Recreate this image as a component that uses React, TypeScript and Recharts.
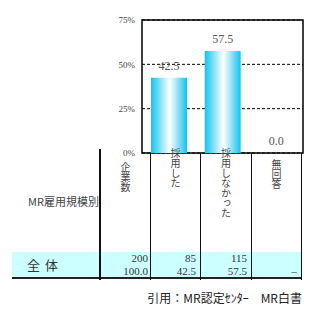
import React from 'react';
import { BarChart, Bar, XAxis, YAxis, CartesianGrid, ReferenceArea, LabelList } from 'recharts';

const categories = ['採用した', '採用しなかった', '無回答'];
const percents = [42.5, 57.5, 0.0];
const counts = ['85', '115', ''];
const pctLabels = ['42.5', '57.5', '–'];
const totalCount = '200';
const totalPct = '100.0';
const yTicks = [0, 25, 50, 75];

const data = categories.map((name, i) => ({ name, value: percents[i] }));

const JP = '"Noto Sans CJK JP", "Noto Sans", sans-serif';
const SERIF = '"Liberation Serif", "DejaVu Serif", serif';

const colLines = [150, 200, 251, 301];
const headerCols = [
  { text: '企業数', x: 100, w: 50, top: 162 },
  { text: categories[0], x: 150, w: 50, top: 148 },
  { text: categories[1], x: 200, w: 51, top: 148 },
  { text: categories[2], x: 251, w: 50, top: 159 },
];

const vText = (t: string, x: number, w: number, top: number) => (
  <div
    key={t}
    style={{
      position: 'absolute',
      left: x,
      width: w,
      top,
      display: 'flex',
      justifyContent: 'center',
    }}
  >
    <div
      style={{
        writingMode: 'vertical-rl',
        textOrientation: 'upright',
        fontFamily: JP,
        fontSize: 10,
        lineHeight: '10px',
        color: '#444',
      }}
    >
      {t}
    </div>
  </div>
);

const App = () => {
  return (
    <div style={{ position: 'absolute', left: 0, top: 0, width: 313, height: 311, background: '#fff', overflow: 'hidden' }}>
      <style>{`.mrchart text { font-family: "Liberation Serif", serif !important; }`}</style>
      <BarChart
        className="mrchart"
        width={313}
        height={160}
        data={data}
        margin={{ top: 20, right: 10, bottom: 7, left: 0 }}
        barSize={36}
      >
        <defs>
          <linearGradient id="barGrad" x1="0" y1="0" x2="1" y2="0">
            <stop offset="0%" stopColor="#12c3f0" />
            <stop offset="52%" stopColor="#ffffff" />
            <stop offset="100%" stopColor="#12c3f0" />
          </linearGradient>
        </defs>
        <CartesianGrid vertical={false} strokeDasharray="3 2" stroke="#000" />
        <XAxis dataKey="name" hide />
        <YAxis
          width={142}
          domain={[0, 75]}
          ticks={yTicks}
          axisLine={false}
          tickLine={false}
          tickSize={0}
          tickMargin={7}
          tickFormatter={(v) => `${v}%`}
          tick={{ fontSize: 9, fill: '#444' }}
        />
        <ReferenceArea y1={0} y2={75} fill="none" stroke="#000" strokeWidth={1.5} />
        <Bar dataKey="value" isAnimationActive={false} fill="url(#barGrad)" minPointSize={0.1}>
          <LabelList
            dataKey="value"
            position="top"
            offset={8}
            formatter={(v: any) => Number(v).toFixed(1)}
            fontSize={12}
            fill="#555"
          />
        </Bar>
      </BarChart>

      {/* table */}
      <div style={{ position: 'absolute', left: 12, top: 252, width: 289, height: 25, background: '#ccffff' }} />
      <div style={{ position: 'absolute', left: 12, top: 277, width: 290, height: 2, background: '#222' }} />
      <div style={{ position: 'absolute', left: 99, top: 149, width: 1.5, height: 131, background: '#111' }} />
      {colLines.map((x) => (
        <div key={x} style={{ position: 'absolute', left: x - 0.5, top: 153, width: 1.5, height: 127, background: '#111' }} />
      ))}
      {headerCols.map((h) => vText(h.text, h.x, h.w, h.top))}

      <div style={{ position: 'absolute', left: 28, top: 194, fontFamily: JP, fontSize: 11, lineHeight: '14px', color: '#444', whiteSpace: 'nowrap' }}>
        MR雇用規模別
      </div>
      <div style={{ position: 'absolute', left: 27, top: 257, fontFamily: JP, fontSize: 13, lineHeight: '16px', color: '#333', letterSpacing: 5, whiteSpace: 'nowrap' }}>
        全体
      </div>

      {[
        { right: 313 - 148, top: totalCount, bottom: totalPct },
        ...counts.map((c, i) => ({ right: 313 - (colLines[i + 1] - 4), top: c, bottom: pctLabels[i] })),
      ].map((r, i) => (
        <div key={i} style={{ position: 'absolute', right: r.right, top: 252, textAlign: 'right', fontFamily: SERIF, fontSize: 11, lineHeight: '13px', color: '#333', whiteSpace: 'nowrap' }}>
          <div>{r.top || '\u00a0'}</div>
          <div>{r.bottom}</div>
        </div>
      ))}

      <div style={{ position: 'absolute', right: 11, top: 290, fontFamily: JP, fontSize: 12, lineHeight: '15px', color: '#222', whiteSpace: 'nowrap' }}>
        引用：MR認定ｾﾝﾀｰ　MR白書
      </div>
    </div>
  );
};

export default App;
